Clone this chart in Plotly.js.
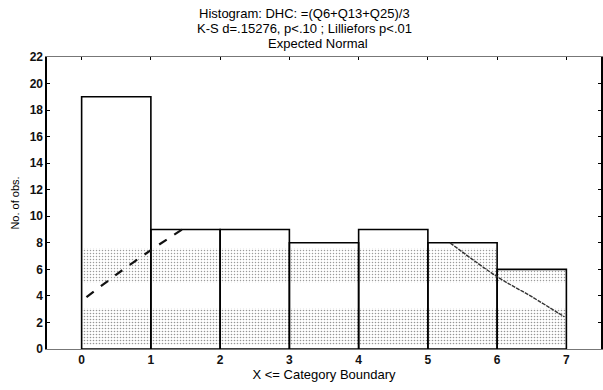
<!DOCTYPE html>
<html>
<head>
<meta charset="utf-8">
<script src="https://cdn.plot.ly/plotly-3.0.1.min.js"></script>
<style>
  html, body { margin: 0; padding: 0; background: #fff; }
  #chart { width: 603px; height: 390px; }
</style>
</head>
<body>
<div id="chart"></div>
<script>
// Category boundaries and observed counts per class
const boundaries = [0, 1, 2, 3, 4, 5, 6, 7];
const counts = [19, 9, 9, 8, 9, 8, 6];

// Expected normal curve, visible stretches (x, expected count)
const normLeftX = [0.07, 0.5, 1.0, 1.45];
const normLeftY = [3.9, 5.6, 7.45, 9.0];
const normRightX = [5.32, 6.0, 6.5, 6.97];
const normRightY = [8.0, 5.45, 3.94, 2.43];

// Stippled bands inside the bars: [bottom, top]
const bandUpper = [5.0, 7.6];
const bandLower = [0.3, 3.1];

// Title lines
const titleLines = [
  'Histogram: DHC: =(Q6+Q13+Q25)/3',
  'K-S d=.15276, p<.10 ; Lilliefors p<.01',
  'Expected Normal'
];

const FONT = 'Arial, "Liberation Sans", sans-serif';

const centers = counts.map((_, i) => (boundaries[i] + boundaries[i + 1]) / 2);
const widths = counts.map((_, i) => boundaries[i + 1] - boundaries[i]);

function bandTrace(band, color, solidity) {
  return {
    type: 'bar', x: centers, width: widths,
    base: counts.map(() => band[0]),
    y: counts.map(c => Math.max(0, Math.min(c, band[1]) - band[0])),
    marker: {
      color: 'rgba(0,0,0,0)',
      line: { width: 0 },
      pattern: { shape: '.', size: 3, solidity: solidity, fgcolor: color, bgcolor: 'rgba(0,0,0,0)' }
    },
    hoverinfo: 'skip', showlegend: false
  };
}

const data = [
  {
    type: 'bar', x: centers, y: counts, width: widths,
    marker: { color: '#ffffff', line: { width: 0 } },
    hoverinfo: 'skip', showlegend: false
  },
  bandTrace(bandUpper, '#9a9a9a', 0.2),
  bandTrace(bandLower, '#959595', 0.22),
  {
    type: 'bar', x: centers, y: counts, width: widths,
    marker: { color: 'rgba(0,0,0,0)', line: { color: '#000', width: 1.6 } },
    hoverinfo: 'skip', showlegend: false
  },
  {
    type: 'scatter', mode: 'lines', x: normLeftX, y: normLeftY,
    line: { color: '#111', width: 2.2, dash: 'dash', shape: 'spline' },
    hoverinfo: 'skip', showlegend: false
  },
  {
    type: 'scatter', mode: 'lines', x: normRightX, y: normRightY,
    line: { color: '#333', width: 1.4, dash: '4px,1px', shape: 'spline' },
    hoverinfo: 'skip', showlegend: false
  }
];

// Title drawn as three centred lines above the plot frame
const titleX = [0.464, 0.464, 0.489];
const titleShift = [44, 29, 14];
const annotations = titleLines.map((t, i) => ({
  text: t, xref: 'paper', yref: 'paper', x: titleX[i], y: 1,
  xanchor: 'center', yanchor: 'middle', yshift: titleShift[i],
  showarrow: false, font: { family: FONT, size: 13, color: '#000' }
}));

const tickFont = { family: FONT, size: 12, color: '#111', weight: 'bold' };

const layout = {
  width: 603, height: 390,
  margin: { l: 47, r: 2, t: 57, b: 41 },
  paper_bgcolor: '#fff', plot_bgcolor: '#fff',
  barmode: 'overlay', bargap: 0,
  annotations: annotations,
  xaxis: {
    range: [-0.5, 7.5],
    tickvals: boundaries, ticktext: boundaries.map(String),
    ticks: 'inside', ticklen: 3, tickcolor: '#000', mirror: 'ticks',
    showline: true, linecolor: '#777', linewidth: 1,
    showgrid: false, zeroline: false,
    tickfont: tickFont,
    title: { text: 'X <= Category Boundary', font: { family: FONT, size: 13, color: '#000' }, standoff: 0 }
  },
  yaxis: {
    range: [0, 22], dtick: 2, tick0: 0,
    ticks: 'inside', ticklen: 3, tickcolor: '#000', mirror: 'ticks',
    showline: true, linecolor: '#000', linewidth: 1.6,
    showgrid: false, zeroline: false,
    tickfont: tickFont,
    title: { text: 'No. of obs.', font: { family: FONT, size: 11, color: '#000' }, standoff: 8 }
  }
};

Plotly.newPlot('chart', data, layout, { displayModeBar: false, staticPlot: true });
</script>
</body>
</html>
